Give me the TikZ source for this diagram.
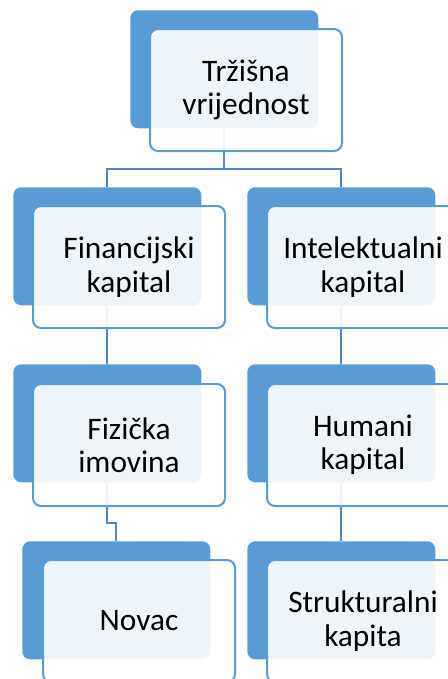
\documentclass[tikz,border=0pt]{standalone}
\usepackage{fontspec}
\setmainfont{Carlito}
\definecolor{boxblue}{RGB}{91,155,213}
\definecolor{linkblue}{RGB}{80,135,200}
\tikzset{
  back/.style={anchor=north west, fill=boxblue, draw=none, rounded corners=6pt,
    minimum width=141pt, minimum height=88.5pt, inner sep=0pt},
  card/.style={anchor=north west, fill=white, fill opacity=0.9, text opacity=1,
    draw=boxblue, line width=1.5pt, rounded corners=6pt,
    minimum width=144pt, minimum height=91.5pt, inner sep=0pt, align=center,
    font=\fontsize{23.5}{25}\selectfont},
  link/.style={draw=linkblue, line width=1.5pt}
}
\begin{document}
\begin{tikzpicture}[x=0.75pt,y=0.75pt,yscale=-1,xscale=1]
\useasboundingbox (0,0) rectangle (448,679);
\clip (0,0) rectangle (448,679);

%Shape: back boxes
\node[back] (topback) at (130,10) {};
\node[back] (finback) at (13,187) {};
\node[back] (intback) at (247,187) {};
\node[back] (fizback) at (13,364) {};
\node[back] (humback) at (247,364) {};
\node[back] (novback) at (22,541) {};
\node[back] (strback) at (247,541) {};

%Connectors
\draw[link] (topback.south) -- ++(0,40) -| (finback.north);
\draw[link] (topback.south) -- ++(0,40) -| (intback.north);
\draw[link] (finback.south) -- (fizback.north);
\draw[link] (intback.south) -- (humback.north);
\draw[link] (fizback.south) -- ++(0,40) -| (novback.north);
\draw[link] (humback.south) -- (strback.north);

% Text Node
\node[card] (trz) at (149,28) {Tržišna\\vrijednost};
% Text Node
\node[card] (fin) at (32,205) {Financijski\\kapital};
% Text Node
\node[card] (int) at (266,205) {Intelektualni\\kapital};
% Text Node
\node[card] (fiz) at (32,383) {Fizička\\imovina};
% Text Node
\node[card] (hum) at (266,383) {Humani\\kapital};
% Text Node
\node[card] (nov) at (42,559) {Novac};
% Text Node
\node[card] (str) at (266,559) {Strukturalni\\kapita};

\end{tikzpicture}
\end{document}
